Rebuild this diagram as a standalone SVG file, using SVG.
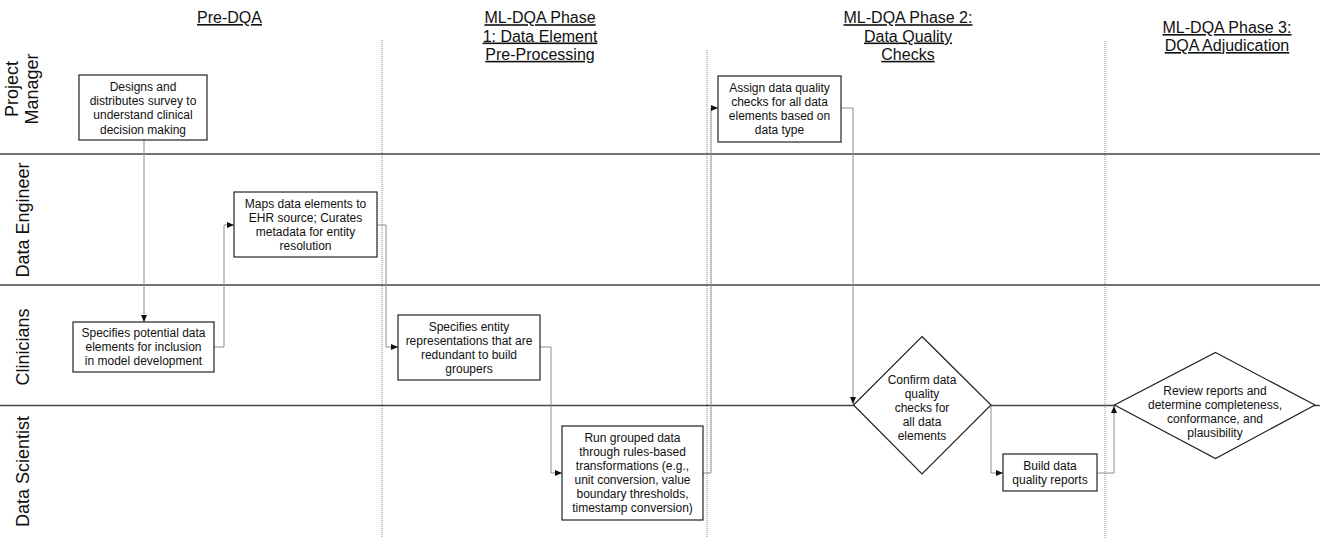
<svg xmlns="http://www.w3.org/2000/svg" width="1320" height="538" viewBox="0 0 1320 538">
<style>
text{font-family:"Liberation Sans",Arial,sans-serif;fill:#111}
.hdr{font-size:16px;text-anchor:middle;text-decoration:underline}
.lane{font-size:18px;text-anchor:middle}
.nt{font-size:12px;text-anchor:middle}
.box{fill:#fff;stroke:#222;stroke-width:1.2}
.lline{stroke:#444;stroke-width:1.4;fill:none}
.dot{stroke:#8a8a8a;stroke-width:1;stroke-dasharray:1 1;fill:none}
.con{stroke:#8c8c8c;stroke-width:1;fill:none;marker-end:url(#ah)}
</style>
<defs>
<marker id="ah" markerUnits="userSpaceOnUse" markerWidth="7" markerHeight="6" refX="7" refY="3" orient="auto">
<path d="M0,0 L7,3 L0,6 z" fill="#111"/>
</marker>
</defs>
<rect width="1320" height="538" fill="#fff"/>
<g id="phase-headers">
<text class="hdr" x="229.5" y="23">Pre-DQA</text>
<text class="hdr" x="540" y="23.2">ML-DQA Phase</text>
<text class="hdr" x="540" y="41.5">1: Data Element</text>
<text class="hdr" x="540" y="59.8">Pre-Processing</text>
<text class="hdr" x="908" y="23.2">ML-DQA Phase 2:</text>
<text class="hdr" x="908" y="41.5">Data Quality</text>
<text class="hdr" x="908" y="59.8">Checks</text>
<text class="hdr" x="1227" y="33">ML-DQA Phase 3:</text>
<text class="hdr" x="1227" y="51">DQA Adjudication</text>
</g>
<g id="dividers">
<line class="dot" x1="382" y1="40" x2="382" y2="538"/>
<line class="dot" x1="707" y1="50" x2="707" y2="538"/>
<line class="dot" x1="1105" y1="41" x2="1105" y2="538"/>
<line class="lline" x1="0" y1="154" x2="1320" y2="154"/>
<line class="lline" x1="0" y1="285" x2="1320" y2="285"/>
<line class="lline" x1="0" y1="405.5" x2="1320" y2="405.5"/>
</g>
<g id="lane-labels">
<text class="lane" transform="translate(18,89) rotate(-90)">Project</text>
<text class="lane" transform="translate(38,89) rotate(-90)">Manager</text>
<text class="lane" transform="translate(29,220) rotate(-90)">Data Engineer</text>
<text class="lane" transform="translate(29,347) rotate(-90)">Clinicians</text>
<text class="lane" transform="translate(29,471.5) rotate(-90)">Data Scientist</text>
</g>
<g id="connectors">
<path class="con" d="M144,140 V322"/>
<path class="con" d="M214,347 H224 V225 H234"/>
<path class="con" d="M377,225 H386 V347 H398"/>
<path class="con" d="M540,347 H551 V473 H562"/>
<path class="con" d="M703,473 H711 V108 H718"/>
<path class="con" d="M841,108 H853 V404"/>
<path class="con" d="M991,405 V473 H1003"/>
<path class="con" d="M1097,473 H1114 V406"/>
</g>
<g id="pm-survey">
<rect class="box" x="79" y="75" width="128" height="65"/>
<text class="nt" x="143" y="91.2">Designs and</text>
<text class="nt" x="143" y="105.3">distributes survey to</text>
<text class="nt" x="143" y="119.4">understand clinical</text>
<text class="nt" x="143" y="133.5">decision making</text>
</g>
<g id="clin-specifies-elements">
<rect class="box" x="73" y="322" width="141" height="50"/>
<text class="nt" x="143.5" y="337.1">Specifies potential data</text>
<text class="nt" x="143.5" y="351.2">elements for inclusion</text>
<text class="nt" x="143.5" y="365.3">in model development</text>
</g>
<g id="de-maps">
<rect class="box" x="234" y="192" width="143" height="65"/>
<text class="nt" x="305.5" y="207.6">Maps data elements to</text>
<text class="nt" x="305.5" y="221.7">EHR source; Curates</text>
<text class="nt" x="305.5" y="235.8">metadata for entity</text>
<text class="nt" x="305.5" y="249.9">resolution</text>
</g>
<g id="clin-entity">
<rect class="box" x="398" y="315" width="142" height="65"/>
<text class="nt" x="469" y="330.6">Specifies entity</text>
<text class="nt" x="469" y="344.7">representations that are</text>
<text class="nt" x="469" y="358.8">redundant to build</text>
<text class="nt" x="469" y="372.9">groupers</text>
</g>
<g id="ds-transform">
<rect class="box" x="562" y="426" width="141" height="94"/>
<text class="nt" x="632.5" y="441.9">Run grouped data</text>
<text class="nt" x="632.5" y="456">through rules-based</text>
<text class="nt" x="632.5" y="470.1">transformations (e.g.,</text>
<text class="nt" x="632.5" y="484.2">unit conversion, value</text>
<text class="nt" x="632.5" y="498.3">boundary thresholds,</text>
<text class="nt" x="632.5" y="512.4">timestamp conversion)</text>
</g>
<g id="pm-assign">
<rect class="box" x="718" y="76" width="123" height="66"/>
<text class="nt" x="779.5" y="92.1">Assign data quality</text>
<text class="nt" x="779.5" y="106.2">checks for all data</text>
<text class="nt" x="779.5" y="120.3">elements based on</text>
<text class="nt" x="779.5" y="134.4">data type</text>
</g>
<g id="confirm-checks">
<polygon class="box" points="922,336.5 991,405 922,474 853.5,405"/>
<text class="nt" x="922" y="383.5">Confirm data</text>
<text class="nt" x="922" y="397.6">quality</text>
<text class="nt" x="922" y="411.7">checks for</text>
<text class="nt" x="922" y="425.8">all data</text>
<text class="nt" x="922" y="439.9">elements</text>
</g>
<g id="ds-build-reports">
<rect class="box" x="1003" y="454" width="94" height="37"/>
<text class="nt" x="1050" y="469.9">Build data</text>
<text class="nt" x="1050" y="484">quality reports</text>
</g>
<g id="review-reports">
<polygon class="box" points="1215.5,352.5 1315,405 1215.5,458.5 1114.5,405"/>
<text class="nt" x="1215" y="394.5">Review reports and</text>
<text class="nt" x="1215" y="408.6">determine completeness,</text>
<text class="nt" x="1215" y="422.7">conformance, and</text>
<text class="nt" x="1215" y="436.8">plausibility</text>
</g>
</svg>
